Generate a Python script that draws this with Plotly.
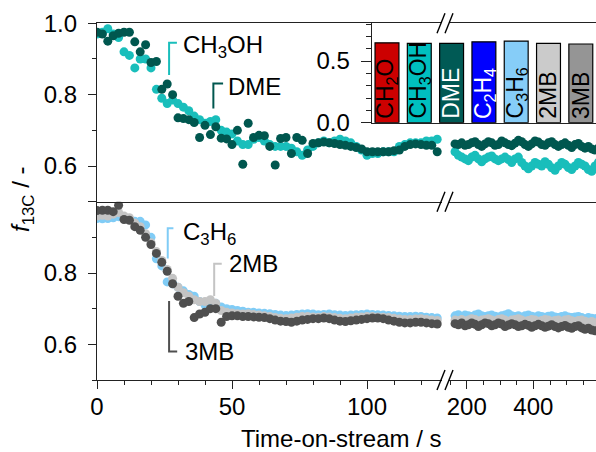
import plotly.graph_objects as go

W, H = 596, 452

# ---------------- data ----------------
# left part of the broken time axis (0-127 s), sampled every 2 s
t_left = list(range(0, 128, 2))
ch3oh_left = [0.970, 0.975, 0.985, 0.970, 0.960, 0.920, 0.910, 0.875, 0.900, 0.900,
              0.875, 0.815, 0.790, 0.775, 0.785, 0.775, 0.765, 0.755, 0.740, 0.730,
              0.720, 0.725, 0.730, 0.700, 0.695, 0.690, 0.670, 0.660, 0.660, 0.675,
              0.680, 0.670, 0.660, 0.655, 0.655, 0.655, 0.650, 0.640, 0.630, 0.645,
              0.655, 0.665, 0.670, 0.665, 0.670, 0.675, 0.670, 0.665, 0.655, 0.645,
              0.630, 0.635, 0.635, 0.640, 0.640, 0.640, 0.655, 0.660, 0.665, 0.665,
              0.665, 0.670, 0.670, 0.675]
dme_left = [0.975, 0.970, 0.950, 0.965, 0.972, 0.975, 0.975, 0.948, 0.920, 0.940,
            0.890, 0.893, 0.815, 0.830, 0.800, 0.735, 0.733, 0.730, 0.722, 0.680,
            0.714, 0.688, 0.710, 0.678, 0.676, 0.660, 0.700, 0.605, 0.720, 0.680,
            0.686, 0.685, 0.655, 0.603, 0.677, 0.680, 0.635, 0.680, 0.672, 0.635,
            0.663, 0.665, 0.667, 0.665, 0.663, 0.660, 0.658, 0.655, 0.652, 0.648,
            0.640, 0.640, 0.640, 0.640, 0.640, 0.643, 0.645, 0.655, 0.660, 0.662,
            0.660, 0.658, 0.658, 0.640]
c3h6_left = [0.953, 0.952, 0.953, 0.955, 0.958, 0.955, 0.950, 0.945, 0.945, 0.935,
             0.900, 0.840, 0.820, 0.775, 0.770, 0.760, 0.750, 0.740, 0.735, 0.720,
             0.710, 0.715, 0.715, 0.705, 0.700, 0.698, 0.695, 0.693, 0.690, 0.690,
             0.688, 0.687, 0.686, 0.684, 0.682, 0.681, 0.682, 0.684, 0.685, 0.686,
             0.685, 0.683, 0.684, 0.685, 0.683, 0.682, 0.681, 0.682, 0.683, 0.684,
             0.685, 0.684, 0.683, 0.682, 0.681, 0.680, 0.679, 0.678, 0.678, 0.679,
             0.678, 0.676, 0.675, 0.674]
mb2_left = [0.960, 0.962, 0.960, 0.965, 0.970, 0.960, 0.955, 0.940, 0.930, 0.910,
            0.885, 0.860, 0.835, 0.810, 0.785, 0.760, 0.745, 0.735, 0.725, 0.720,
            0.720, 0.725, 0.715, 0.695, 0.690, 0.688, 0.686, 0.685, 0.686, 0.684,
            0.682, 0.680, 0.678, 0.675, 0.673, 0.672, 0.674, 0.676, 0.678, 0.678,
            0.677, 0.676, 0.678, 0.677, 0.675, 0.673, 0.672, 0.674, 0.676, 0.677,
            0.678, 0.678, 0.677, 0.676, 0.675, 0.673, 0.671, 0.670, 0.670, 0.671,
            0.672, 0.670, 0.668, 0.667]
mb3_left = [0.975, 0.976, 0.976, 0.972, 0.990, 0.950, 0.948, 0.930, 0.920, 0.900,
            0.880, 0.855, 0.830, 0.805, 0.770, 0.735, 0.715, 0.720, 0.675, 0.685,
            0.690, 0.700, 0.700, 0.662, 0.678, 0.680, 0.680, 0.678, 0.678, 0.677,
            0.676, 0.675, 0.672, 0.668, 0.665, 0.664, 0.662, 0.665, 0.668, 0.670,
            0.672, 0.672, 0.674, 0.672, 0.668, 0.665, 0.664, 0.666, 0.668, 0.670,
            0.672, 0.674, 0.674, 0.672, 0.668, 0.665, 0.662, 0.660, 0.660, 0.662,
            0.662, 0.660, 0.658, 0.657]

# right part of the broken time axis (165-595 s), sampled every 10 s
t_right = list(range(165, 600, 10))
ch3oh_right = [0.640, 0.630, 0.625, 0.620, 0.615, 0.625, 0.630, 0.620, 0.612, 0.620,
               0.625, 0.628, 0.620, 0.615, 0.620, 0.625, 0.618, 0.610, 0.620, 0.625,
               0.610, 0.600, 0.592, 0.600, 0.610, 0.605, 0.600, 0.612, 0.605, 0.595,
               0.588, 0.600, 0.610, 0.605, 0.596, 0.590, 0.600, 0.610, 0.605, 0.600,
               0.590, 0.585, 0.600, 0.610]
dme_right = [0.662, 0.660, 0.665, 0.658, 0.660, 0.665, 0.668, 0.660, 0.655, 0.662,
             0.668, 0.665, 0.658, 0.660, 0.670, 0.665, 0.660, 0.657, 0.664, 0.672,
             0.668, 0.660, 0.655, 0.662, 0.670, 0.667, 0.660, 0.658, 0.665, 0.668,
             0.660, 0.655, 0.660, 0.665, 0.658, 0.652, 0.660, 0.663, 0.655, 0.650,
             0.655, 0.648, 0.645, 0.650]
c3h6_right = [0.680, 0.683, 0.678, 0.682, 0.680, 0.678, 0.682, 0.685, 0.680, 0.678,
              0.680, 0.682, 0.679, 0.677, 0.680, 0.682, 0.686, 0.680, 0.678, 0.680,
              0.677, 0.680, 0.682, 0.679, 0.677, 0.680, 0.678, 0.676, 0.679, 0.680,
              0.677, 0.675, 0.678, 0.680, 0.677, 0.675, 0.677, 0.678, 0.675, 0.672,
              0.675, 0.673, 0.672, 0.674]
mb2_right = [0.668, 0.666, 0.670, 0.665, 0.668, 0.672, 0.670, 0.665, 0.668, 0.670,
             0.672, 0.668, 0.665, 0.670, 0.672, 0.668, 0.665, 0.668, 0.670, 0.672,
             0.668, 0.665, 0.667, 0.670, 0.668, 0.665, 0.667, 0.670, 0.668, 0.665,
             0.667, 0.668, 0.665, 0.668, 0.670, 0.666, 0.664, 0.667, 0.668, 0.665,
             0.662, 0.664, 0.660, 0.662]
mb3_right = [0.658, 0.655, 0.660, 0.652, 0.655, 0.660, 0.656, 0.650, 0.655, 0.660,
             0.658, 0.652, 0.655, 0.660, 0.657, 0.650, 0.654, 0.658, 0.655, 0.650,
             0.652, 0.656, 0.653, 0.648, 0.652, 0.656, 0.652, 0.648, 0.651, 0.655,
             0.650, 0.646, 0.650, 0.653, 0.648, 0.645, 0.650, 0.652, 0.646, 0.642,
             0.645, 0.640, 0.638, 0.640]

# inset bar chart (steady-state f13C)
bar_labels = ["CH<sub>2</sub>O", "CH<sub>3</sub>OH", "DME", "C<sub>2</sub>H<sub>4</sub>",
              "C<sub>3</sub>H<sub>6</sub>", "2MB", "3MB"]
bar_values = [0.648, 0.643, 0.643, 0.656, 0.662, 0.643, 0.638]
bar_colors = ["#cc0000", "#00bfbf", "#005a55", "#0000ff", "#86cdf8", "#cbcbcb", "#959595"]
bar_text_colors = ["black", "black", "white", "white", "black", "black", "black"]

# ---------------- styling ----------------
FONT = "Liberation Sans, Arial, sans-serif"
FS = 24
C_CH3OH = "#19bebb"
C_DME = "#00574f"
C_C3H6 = "#80ccf6"
C_2MB = "#c4c4c4"
C_3MB = "#4f4f4f"
LINE_C = "#222222"
LW = 1.4
MS = 9


def px(x):
    return x / W


def py(y):
    return 1 - y / H


X_LEFT, X_BREAK = 97, 445
Y_BOT, Y_MID, Y_TOP = 380, 201.7, 23.3
LEFT_RANGE = [0, (X_BREAK - X_LEFT) / 2.70]
RIGHT_RANGE = [200 - (466.7 - X_BREAK) * 3, 200 + (W - 466.7) * 3]

fig = go.Figure()


def sc(x, y, color, xa, ya):
    fig.add_trace(go.Scatter(x=x, y=y, mode="markers", xaxis=xa, yaxis=ya,
                             marker=dict(size=MS, color=color, line=dict(width=0)),
                             showlegend=False, hoverinfo="skip"))


# top panel
sc(t_left, ch3oh_left, C_CH3OH, "x3", "y3")
sc(t_left, dme_left, C_DME, "x3", "y3")
sc(t_right, ch3oh_right, C_CH3OH, "x4", "y4")
sc(t_right, dme_right, C_DME, "x4", "y4")
# bottom panel
sc(t_left, c3h6_left, C_C3H6, "x", "y")
sc(t_left, mb2_left, C_2MB, "x", "y")
sc(t_left, mb3_left, C_3MB, "x", "y")
sc(t_right, c3h6_right, C_C3H6, "x2", "y2")
sc(t_right, mb2_right, C_2MB, "x2", "y2")
sc(t_right, mb3_right, C_3MB, "x2", "y2")

# inset bars
fig.add_trace(go.Bar(x=list(range(len(bar_values))), y=bar_values, xaxis="x5", yaxis="y5",
                     width=0.74, marker=dict(color=bar_colors, line=dict(color="black", width=1.2)),
                     showlegend=False, hoverinfo="skip"))

tickfont = dict(family=FONT, size=FS, color="black")
base = dict(showline=True, linecolor=LINE_C, linewidth=LW, zeroline=False, showgrid=False,
            tickfont=tickfont, tickcolor=LINE_C, tickwidth=LW, automargin=False)

fig.update_layout(
    width=W, height=H, margin=dict(l=0, r=0, t=0, b=0, pad=0, autoexpand=False),
    paper_bgcolor="white", plot_bgcolor="rgba(0,0,0,0)",
    font=dict(family=FONT, size=FS, color="black"),
    xaxis=dict(base, domain=[px(X_LEFT), px(X_BREAK)], range=LEFT_RANGE, anchor="y",
               tickmode="linear", tick0=0, dtick=50, ticks="outside", ticklen=8,
               ticklabelstandoff=-3,
               minor=dict(tickmode="linear", tick0=0, dtick=10, ticks="outside", ticklen=4,
                          tickcolor=LINE_C, tickwidth=LW)),
    xaxis2=dict(base, domain=[px(X_BREAK), 1], range=RIGHT_RANGE, anchor="y2",
                tickmode="linear", tick0=0, dtick=200, ticks="outside", ticklen=8,
                ticklabelstandoff=-3,
                minor=dict(tickmode="linear", tick0=0, dtick=50, ticks="outside", ticklen=4,
                           tickcolor=LINE_C, tickwidth=LW)),
    yaxis=dict(base, domain=[py(Y_BOT), py(Y_MID)], range=[0.5, 1.0], anchor="x",
               tickmode="array", tickvals=[0.6, 0.8, 1.0], ticktext=["0.6", "0.8", ""],
               ticks="outside", ticklen=8, ticklabelstandoff=6,
               minor=dict(tickmode="linear", tick0=0, dtick=0.1, ticks="outside", ticklen=4,
                          tickcolor=LINE_C, tickwidth=LW)),
    yaxis2=dict(domain=[py(Y_BOT), py(Y_MID)], range=[0.5, 1.0], anchor="x2", visible=False),
    xaxis3=dict(base, domain=[px(X_LEFT), px(X_BREAK)], range=LEFT_RANGE, anchor="y3",
                mirror=True, ticks="", showticklabels=False),
    xaxis4=dict(base, domain=[px(X_BREAK), 1], range=RIGHT_RANGE, anchor="y4",
                mirror=True, ticks="", showticklabels=False),
    yaxis3=dict(base, domain=[py(Y_MID), py(Y_TOP)], range=[0.5, 1.0], anchor="x3",
                tickmode="linear", tick0=0, dtick=0.2, tickformat=".1f",
                ticks="outside", ticklen=8, ticklabelstandoff=6,
                minor=dict(tickmode="linear", tick0=0, dtick=0.1, ticks="outside", ticklen=4,
                           tickcolor=LINE_C, tickwidth=LW)),
    yaxis4=dict(domain=[py(Y_MID), py(Y_TOP)], range=[0.5, 1.0], anchor="x4", visible=False),
    xaxis5=dict(base, domain=[px(371.8), 1], range=[-0.47, 6.47], anchor="y5",
                ticks="", showticklabels=False),
    yaxis5=dict(base, domain=[py(122.7), py(Y_TOP)], range=[0, 0.806], anchor="x5",
                tickmode="linear", tick0=0, dtick=0.5, tickformat=".1f",
                ticks="outside", ticklen=10, ticklabelstandoff=6,
                minor=dict(tickmode="linear", tick0=0, dtick=0.1, ticks="outside", ticklen=5,
                           tickcolor=LINE_C, tickwidth=LW)),
)

shapes = []
annotations = []

# axis break marks
for yy in (Y_TOP, Y_MID, Y_BOT):
    shapes.append(dict(type="rect", xref="paper", yref="paper",
                       x0=px(X_BREAK - 3), x1=px(X_BREAK + 4), y0=py(yy + 3), y1=py(yy - 3),
                       fillcolor="white", line=dict(width=0), layer="above"))
    for dx in (-4, 4):
        shapes.append(dict(type="line", xref="paper", yref="paper",
                           x0=px(X_BREAK + dx - 4), y0=py(yy + 10),
                           x1=px(X_BREAK + dx + 4), y1=py(yy - 10),
                           line=dict(color="black", width=1.4), layer="above"))


def bracket(xr, yr, pts, color):
    path = "M " + " L ".join(f"{a},{b}" for a, b in pts)
    shapes.append(dict(type="path", xref=xr, yref=yr, path=path,
                       line=dict(color=color, width=2)))


def label(xr, yr, x, y, text):
    annotations.append(dict(xref=xr, yref=yr, x=x, y=y, text=text, showarrow=False,
                            xanchor="left", yanchor="middle",
                            font=dict(family=FONT, size=FS, color="black")))


# callouts, top panel
bracket("x3", "y3", [(26.7, 0.855), (26.7, 0.9455), (29.6, 0.9455)], C_CH3OH)
label("x3", "y3", 31.0, 0.935, "CH<sub>3</sub>OH")
bracket("x3", "y3", [(43.1, 0.761), (43.1, 0.8315), (46.7, 0.8315)], C_DME)
label("x3", "y3", 47.8, 0.824, "DME")
# callouts, bottom panel
bracket("x", "y", [(26.2, 0.8405), (26.2, 0.9255), (28.3, 0.9255)], C_C3H6)
label("x", "y", 31.0, 0.912, "C<sub>3</sub>H<sub>6</sub>")
bracket("x", "y", [(43.4, 0.7357), (43.4, 0.8263), (46.2, 0.8263)], C_2MB)
label("x", "y", 48.0, 0.8263, "2MB")
bracket("x", "y", [(26.7, 0.7215), (26.7, 0.58), (29.7, 0.58)], C_3MB)
label("x", "y", 32.0, 0.58, "3MB")

# labels inside inset bars
for i, (lab, col) in enumerate(zip(bar_labels, bar_text_colors)):
    annotations.append(dict(xref="x5", yref="y5", x=i, y=0, text=lab, showarrow=False,
                            textangle=-90, xanchor="center", yanchor="bottom", yshift=2,
                            font=dict(family=FONT, size=23, color=col)))

# axis titles
annotations.append(dict(xref="paper", yref="paper", x=px(22), y=py(200),
                        text="<i>f</i><sub>13C</sub> / -", showarrow=False, textangle=-90,
                        xanchor="center", yanchor="middle",
                        font=dict(family=FONT, size=FS, color="black")))
annotations.append(dict(xref="paper", yref="paper", x=px(341), y=py(438),
                        text="Time-on-stream / s", showarrow=False,
                        xanchor="center", yanchor="middle",
                        font=dict(family=FONT, size=FS, color="black")))

fig.update_layout(shapes=shapes, annotations=annotations)
fig.write_html("out.html")
